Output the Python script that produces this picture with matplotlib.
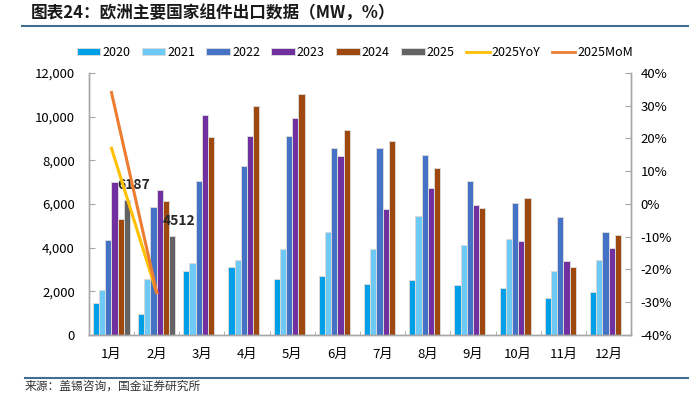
import matplotlib
matplotlib.use("Agg")
import matplotlib.pyplot as plt
from matplotlib.lines import Line2D
import numpy as np

plt.rcParams['font.family'] = ['Noto Sans CJK SC', 'DejaVu Sans']

months = ['1月', '2月', '3月', '4月', '5月', '6月', '7月', '8月', '9月', '10月', '11月', '12月']
years = ['2020', '2021', '2022', '2023', '2024', '2025']
v2020 = [1450, 950, 2950, 3100, 2550, 2700, 2350, 2500, 2300, 2150, 1700, 1950]
v2021 = [2050, 2580, 3300, 3450, 3950, 4700, 3950, 5450, 4100, 4400, 2950, 3450]
v2022 = [4350, 5850, 7050, 7750, 9100, 8550, 8550, 8250, 7050, 6050, 5400, 4700]
v2023 = [7000, 6650, 10050, 9100, 9950, 8200, 5750, 6750, 5950, 4300, 3400, 4000]
v2024 = [5300, 6150, 9050, 10480, 11050, 9400, 8870, 7650, 5800, 6250, 3100, 4600]
v2025 = [6187, 4512]
yoy_2025 = [17.0, -27.0]
mom_2025 = [34.0, -27.0]

colors = ['#00A0E9', '#6DCAF6', '#4472C4', '#7030A0', '#9E480E', '#636363']
yoy_color = '#FFC000'
mom_color = '#ED7D31'
axis_grey = '#A6A6A6'

fig = plt.figure(figsize=(6.89, 3.96), dpi=100)
ax = fig.add_axes([0.129, 0.154, 0.787, 0.662])
ax2 = ax.twinx()

x = np.arange(len(months))
w = 0.137
series = [v2020, v2021, v2022, v2023, v2024, v2025]
for i, vals in enumerate(series):
    xs = x[:len(vals)] + (i - 2.5) * w
    ax.bar(xs, vals, width=w, color=colors[i], edgecolor='#D9D9D9',
           linewidth=0.7, label=years[i], zorder=2)

# labels for 2025
for xi, v in zip(x[:len(v2025)], v2025):
    ax.annotate(str(v), (xi + 2.5 * w, v), xytext=(5, 6), textcoords='offset points',
                ha='center', va='bottom', fontsize=10, fontweight='bold', color='#262626')

ax2.plot(x[:len(yoy_2025)], yoy_2025, color=yoy_color, lw=2.2)
ax2.plot(x[:len(mom_2025)], mom_2025, color=mom_color, lw=2.2)

ax.set_xlim(-0.5, len(months) - 0.5)
ax.set_ylim(0, 12000)
ax.set_yticks(np.arange(0, 12001, 2000))
ax.set_yticklabels([f'{t:,}' for t in range(0, 12001, 2000)])
ax2.set_ylim(-40, 40)
ax2.set_yticks(np.arange(-40, 41, 10))
ax2.set_yticklabels([f'{t}%' for t in range(-40, 41, 10)])

ax.set_xticks(x)
ax.set_xticklabels(months)
ax.set_xticks(np.arange(-0.5, len(months), 1), minor=True)
ax.tick_params(axis='x', which='major', length=0, pad=9, labelsize=9.5)
ax.tick_params(axis='x', which='minor', direction='in', length=3, color=axis_grey)
ax.tick_params(axis='y', direction='in', length=4, color=axis_grey, pad=10, labelsize=9.5)
ax2.tick_params(axis='y', direction='in', length=4, color=axis_grey, pad=7, labelsize=9.5)

for a in (ax, ax2):
    a.spines['top'].set_visible(False)
    for s in ('left', 'right', 'bottom'):
        a.spines[s].set_color(axis_grey)
        a.spines[s].set_linewidth(1.0)

handles, labels = ax.get_legend_handles_labels()
handles += [Line2D([], [], color=yoy_color, lw=2), Line2D([], [], color=mom_color, lw=2)]
labels += ['2025YoY', '2025MoM']
fig.legend(handles, labels, loc='center', bbox_to_anchor=(0.515, 0.868), ncol=8,
           frameon=False, fontsize=9, handlelength=1.9, handleheight=0.55,
           handletextpad=0.15, columnspacing=0.9)

# title and source
fig.text(0.044, 0.965, '图表24：欧洲主要国家组件出口数据（MW，%）', fontsize=12,
         fontweight='bold', style='italic', va='center', ha='left', color='#1A1A1A')
fig.add_artist(Line2D([0.032, 1.0], [0.935, 0.935], color='#3E6F8E', lw=1.5))
fig.add_artist(Line2D([0.036, 1.0], [0.045, 0.045], color='#3E6F8E', lw=1.5))
fig.text(0.036, 0.008, '来源：盖锡咨询，国金证券研究所', fontsize=8.5, va='bottom',
         ha='left', color='#333333')

fig.savefig('out.png', dpi=100)
